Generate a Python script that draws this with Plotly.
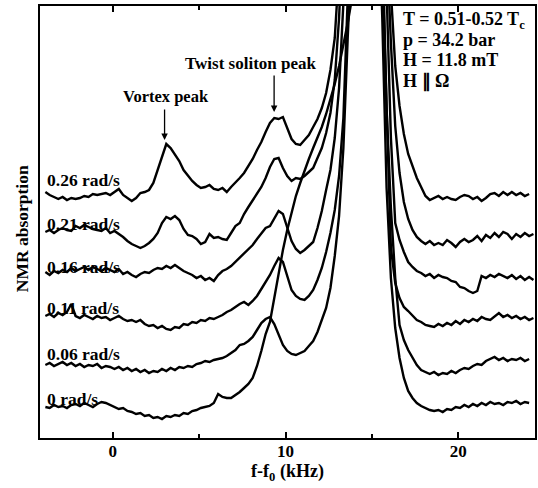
import plotly.graph_objects as go

# frequency grid of the traces, f - f0 in kHz
freq = [-3.9, -3.65, -3.4, -3.15, -2.9, -2.65, -2.4, -2.15, -1.9, -1.65,
        -1.4, -1.15, -0.9, -0.65, -0.4, -0.15, 0.1, 0.35, 0.6, 0.85,
        1.1, 1.35, 1.6, 1.85, 2.1, 2.35, 2.6, 2.85, 3.1, 3.35,
        3.6, 3.85, 4.1, 4.35, 4.6, 4.85, 5.1, 5.35, 5.6, 5.85,
        6.1, 6.35, 6.6, 6.85, 7.1, 7.35, 7.6, 7.85, 8.1, 8.35,
        8.6, 8.85, 9.1, 9.35, 9.6, 9.85, 10.1, 10.35, 10.6, 10.85,
        11.1, 11.35, 11.6, 11.85, 12.1, 12.35, 12.6, 12.85, 13.1, 13.35,
        13.6, 13.85, 14.1, 14.35, 14.6, 14.85, 15.1, 15.35, 15.6, 15.85,
        16.1, 16.35, 16.6, 16.85, 17.1, 17.35, 17.6, 17.85, 18.1, 18.35,
        18.6, 18.85, 19.1, 19.35, 19.6, 19.85, 20.1, 20.35, 20.6, 20.85,
        21.1, 21.35, 21.6, 21.85, 22.1, 22.35, 22.6, 22.85, 23.1, 23.35,
        23.6, 23.85, 24.1, 24.35]

# NMR absorption (arb. units, traces already offset), one list per rotation speed
abs_026 = [246, 243, 241, 239, 241, 238, 240, 239, 240, 242,
           241, 244, 243, 244, 245, 243, 246, 249, 243, 240,
           237, 240, 245, 246, 248, 255, 268, 282, 294, 290,
           283, 277, 268, 262, 257, 253, 250, 251, 253, 249,
           248, 250, 246, 251, 255, 260, 265, 272, 279, 288,
           296, 306, 315, 320, 319, 321, 309, 299, 294, 293,
           298, 303, 311, 319, 330, 345, 368, 400, 470, 540,
           620, 720, 820, 900, 950, 950, 900, 800, 650, 520,
           440, 372, 332, 304, 284, 271, 260, 251, 242, 238,
           240, 242, 239, 241, 239, 238, 241, 243, 242, 239,
           241, 237, 240, 244, 245, 242, 246, 243, 246, 243,
           245, 242, 244, None]
abs_021 = [206, 208, 205, 208, 210, 208, 207, 212, 210, 213,
           211, 209, 208, 207, 210, 205, 207, 204, 201, 197,
           194, 192, 190, 192, 195, 199, 205, 215, 221, 219,
           222, 218, 209, 203, 202, 199, 194, 196, 204, 200,
           201, 199, 198, 205, 212, 215, 224, 231, 238, 245,
           251, 260, 271, 279, 280, 270, 262, 257, 260, 259,
           262, 266, 270, 280, 290, 305, 325, 358, 420, 520,
           600, 700, 800, 880, 920, 920, 880, 780, 640, 500,
           395, 312, 265, 236, 219, 208, 201, 197, 194, 197,
           193, 195, 193, 198, 195, 191, 196, 199, 196, 198,
           202, 197, 203, 200, 205, 201, 206, 204, 199, 204,
           201, 205, 202, 204]
abs_016 = [166, 163, 167, 165, 168, 166, 170, 167, 169, 171,
           168, 171, 169, 167, 170, 168, 166, 169, 164, 166,
           163, 161, 164, 166, 165, 168, 170, 169, 172, 170,
           173, 170, 167, 165, 163, 160, 162, 158, 160, 157,
           163, 167, 169, 172, 176, 180, 184, 188, 193, 199,
           205, 210, 212, 220, 227, 224, 210, 197, 189, 185,
           188, 192, 196, 210, 227, 248, 268, 300, 350, 435,
           560, 650, 740, 840, 880, 880, 840, 740, 600, 450,
           300, 215, 198, 186, 176, 171, 167, 165, 162, 164,
           160, 163, 161, 160, 157, 156, 151, 150, 147, 145,
           147, 162, 160, 163, 161, 164, 162, 160, 163, 159,
           162, 158, 161, 158]
abs_011 = [122, 124, 121, 125, 123, 126, 134, 122, 120, 123,
           121, 119, 122, 120, 121, 118, 120, 122, 119, 117,
           118, 116, 118, 114, 112, 113, 110, 112, 109, 108,
           111, 110, 114, 113, 116, 115, 118, 117, 120, 119,
           121, 123, 126, 128, 131, 134, 136, 133, 137, 142,
           149, 156, 163, 172, 180, 176, 162, 148, 142, 139,
           138, 142, 148, 158, 170, 186, 205, 228, 262, 320,
           440, 560, 680, 780, 820, 820, 780, 680, 500, 330,
           190, 155, 140, 131, 127, 122, 118, 116, 113, 112,
           111, 114, 112, 115, 113, 117, 114, 118, 116, 119,
           117, 121, 119, 118, 122, 125, 121, 123, 120, 122,
           119, 121, 118, 120]
abs_006 = [73, 75, 72, 74, 76, 73, 75, 72, 74, 71,
           73, 72, 74, 70, 72, 71, 69, 71, 68, 70,
           67, 69, 66, 68, 65, 67, 66, 69, 67, 70,
           68, 71, 70, 72, 71, 74, 75, 77, 76, 78,
           79, 80, 82, 85, 88, 93, 94, 97, 101, 108,
           115, 119, 121, 114, 103, 93, 87, 84, 83, 85,
           87, 92, 97, 106, 118, 130, 150, 182, 222, 290,
           400, 520, 650, 740, 780, 780, 740, 620, 470, 330,
           230, 160, 113, 98, 88, 80, 73, 68, 66, 64,
           66, 63, 65, 64, 67, 65, 68, 70, 69, 72,
           74, 73, 77, 79, 81, 78, 80, 77, 79, 78,
           80, 77, 79, None]
abs_000 = [31, 30, 33, 31, 32, 30, 33, 34, 32, 35,
           33, 31, 34, 36, 35, 33, 31, 29, 30, 27,
           26, 24, 25, 22, 23, 20, 21, 19, 22, 21,
           23, 22, 25, 24, 27, 28, 30, 31, 32, 35,
           44, 41, 40, 40, 43, 46, 50, 54, 60, 72,
           87, 104, 116, 140, 165, 188, 208, 226, 242, 255,
           268, 279, 290, 300, 311, 324, 338, 354, 372, 392,
           415, 440, 560, 640, 700, 700, 650, 560, 420, 250,
           160, 110, 80, 60, 47, 40, 35, 32, 30, 28,
           27, 28, 26, 29, 28, 31, 30, 33, 31, 34,
           32, 35, 33, 36, 34, 35, 33, 36, 35, 37,
           34, 36, 35, None]

rate_labels = ['0.26 rad/s', '0.21 rad/s', '0.16 rad/s', '0.11 rad/s', '0.06 rad/s', '0 rad/s']
label_levels = [258, 214, 171, 130, 84, 39]
conditions = ['T = 0.51-0.52 T<sub>c</sub>', 'p = 34.2 bar', 'H = 11.8 mT', 'H \u2225 \u03a9']
condition_levels = [418, 398, 378, 357]

spectra = [abs_026, abs_021, abs_016, abs_011, abs_006, abs_000]
serif = 'Liberation Serif'


def txt(size):
    return dict(family=serif, size=size, color='black', weight='bold')


fig = go.Figure()
for name, trace in zip(rate_labels, spectra):
    fig.add_trace(go.Scatter(x=freq, y=trace, name=name, mode='lines',
                             line=dict(color='black', width=2.4), showlegend=False))

annotations = []
for text, level in zip(rate_labels, label_levels):
    annotations.append(dict(x=-3.92, y=level, text=text, showarrow=False,
                            xanchor='left', yanchor='middle', font=txt(17.5)))
for text, level in zip(conditions, condition_levels):
    annotations.append(dict(x=16.66, y=level, text=text, showarrow=False,
                            xanchor='left', yanchor='middle', font=txt(18)))

# peak markers
annotations.append(dict(x=3.11, y=342, text='Vortex peak', showarrow=False, font=txt(16.5)))
annotations.append(dict(x=3.0, y=298, ax=3.0, ay=330, axref='x', ayref='y', text='',
                        showarrow=True, arrowhead=2, arrowsize=1, arrowwidth=1.3,
                        arrowcolor='black', standoff=0))
annotations.append(dict(x=8.01, y=375, text='Twist soliton peak', showarrow=False, font=txt(17)))
annotations.append(dict(x=9.34, y=326, ax=9.34, ay=364, axref='x', ayref='y', text='',
                        showarrow=True, arrowhead=2, arrowsize=1, arrowwidth=1.3,
                        arrowcolor='black', standoff=0))
# y axis title
annotations.append(dict(x=-0.036, xref='paper', y=209, text='NMR absorption', textangle=-90,
                        showarrow=False, xanchor='center', yanchor='middle', font=txt(17.5)))

fig.update_layout(
    width=538, height=488,
    margin=dict(l=40, r=1, t=6, b=50),
    paper_bgcolor='white', plot_bgcolor='white',
    annotations=annotations,
    xaxis=dict(range=[-4.21, 24.44], showline=True, linecolor='black', linewidth=2,
               mirror='ticks', ticks='inside', ticklen=6, tickwidth=1.5, tickcolor='black',
               tickvals=[0, 10, 20], showgrid=False, zeroline=False,
               minor=dict(tickvals=[5, 15], ticks='inside', ticklen=4, tickcolor='black'),
               tickfont=txt(17),
               ticklabelstandoff=-3,
               title=dict(text='f-f<sub>0</sub> (kHz)', standoff=3, font=txt(18))),
    yaxis=dict(range=[0, 432], showline=True, linecolor='black', linewidth=2,
               mirror=True, ticks='', showticklabels=False, showgrid=False, zeroline=False),
)

fig.write_html('out.html', config={'displayModeBar': False},
               post_script="document.body.style.margin='0';")
